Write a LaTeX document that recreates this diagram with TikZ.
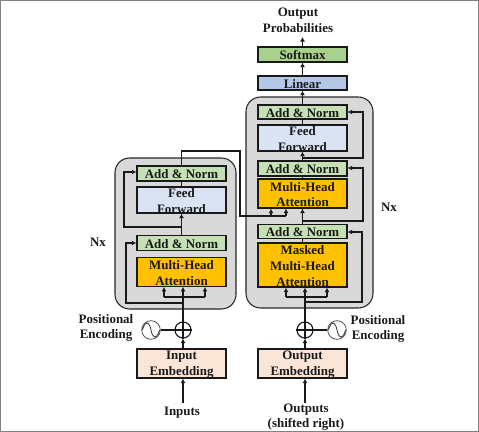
\documentclass[tikz,border=0pt]{standalone}
\usepackage{fontspec}
\setmainfont{Liberation Serif}
\usetikzlibrary{arrows.meta}
\definecolor{panelg}{HTML}{D9D9D9}
\definecolor{normg}{HTML}{C5E0B4}
\definecolor{softg}{HTML}{A9D18E}
\definecolor{ffb}{HTML}{DAE3F3}
\definecolor{linb}{HTML}{B4C7E7}
\definecolor{atto}{HTML}{FFC000}
\definecolor{embo}{HTML}{FBE5D6}
\tikzset{
  x=0.75pt,y=-0.75pt,
  txt/.style={font=\bfseries\fontsize{9.7}{11.7}\selectfont,align=center,text=black!90,inner sep=0pt},
  panel/.style={draw=black!85,line width=0.8pt,fill=panelg,rounded corners=11pt},
  blockbox/.style={draw=black!90,line width=1pt,inner sep=0pt,minimum width=66.75pt},
  wire/.style={draw=black!90,line width=1pt},
  arr/.style={wire,-{Latex[length=3.4pt,width=3.8pt]}},
  sumnode/.style={draw=black!90,line width=0.85pt,circle,minimum size=12pt,inner sep=0pt},
  sinenode/.style={draw=black!70,line width=0.6pt,circle,minimum size=14pt,inner sep=0pt,fill=white},
}
\newcommand{\blk}[6]{\node[blockbox,fill=#2,minimum height=#4*0.75pt] (#1) at (#3,#5) {};
  \node[txt] (#1-t) at ([yshift=-0.75pt]#1.center) {#6};}
\begin{document}
\begin{tikzpicture}
\useasboundingbox (0,0) rectangle (479,432);
\coordinate (tl) at (0.5,0.5); \coordinate (br) at (478.5,431.5);
\draw[draw=black!50,line width=0.8pt] (tl) rectangle (br);
% panels
\node[panel,minimum width=90.75pt,minimum height=113.25pt,inner sep=0pt] (pl) at (175.5,233.5) {};
\node[panel,minimum width=95.25pt,minimum height=158.25pt,inner sep=0pt] (pr) at (309.5,202.5) {};
% left blocks
\blk{an1}{normg}{181.5}{15}{173.5}{Add \& Norm}
\blk{ff1}{ffb}{181.5}{26}{200}{Feed\\Forward}
\blk{an2}{normg}{181.5}{14.5}{243}{Add \& Norm}
\blk{mh1}{atto}{181.5}{28.5}{272}{Multi-Head\\Attention}
% right blocks
\blk{soft}{softg}{302.5}{15}{54.5}{Softmax}
\blk{lin}{linb}{302.5}{14}{83}{Linear}
\blk{an3}{normg}{302.5}{14}{112}{Add \& Norm}
\blk{ff2}{ffb}{302.5}{26}{138}{Feed\\Forward}
\blk{an4}{normg}{302.5}{15}{168.5}{Add \& Norm}
\blk{mh2}{atto}{302.5}{29}{193.5}{Multi-Head\\Attention}
\blk{an5}{normg}{302.5}{14.5}{231.5}{Add \& Norm}
\blk{mh3}{atto}{302.5}{44}{265}{Masked\\Multi-Head\\Attention}
% embeddings
\blk{ie}{embo}{181.5}{29}{363.5}{Input\\Embedding}
\blk{oe}{embo}{302.5}{29}{363.5}{Output\\Embedding}
% sum and sine circles
\node[sumnode] (pl1) at (183,330) {};
\node[sumnode] (pl2) at (305,330) {};
\draw[wire] (pl1.west)--(pl1.east) (pl2.west)--(pl2.east);
\node[sinenode] (s1) at (151,330) {};
\node[sinenode] (s2) at (337,330) {};
\foreach \c in {s1,s2}{
  \draw[black!80,line width=0.6pt] ([xshift=-6.5pt]\c.center) .. controls ([xshift=-3.5pt,yshift=9pt]\c.center) and ([xshift=-1pt,yshift=5pt]\c.center) .. (\c.center) .. controls ([xshift=1pt,yshift=-5pt]\c.center) and ([xshift=3.5pt,yshift=-9pt]\c.center) .. ([xshift=6.5pt]\c.center);
}
\draw[wire] (s1)--(pl1); \draw[wire] (s2)--(pl2);
% named routing points
\coordinate (lj1) at (183,297); \coordinate (lj2) at (183,303);
\coordinate (lf1) at (164,297); \coordinate (lf2) at (205,297);
\coordinate (lr1) at (126,303); \coordinate (lr2) at (126,243);
\coordinate (lj3) at (182,227); \coordinate (lr3) at (124,227); \coordinate (lr4) at (124,172);
\coordinate (x1) at (181.5,151); \coordinate (x2) at (240,151); \coordinate (x3) at (240,216);
\coordinate (x4) at (271,216); \coordinate (x5) at (286,216);
\coordinate (rj1) at (305,297); \coordinate (rj2) at (305,302);
\coordinate (rf1) at (286,297); \coordinate (rf2) at (327,297);
\coordinate (rr1) at (362,302); \coordinate (rr2) at (362,232);
\coordinate (rj3) at (302.5,221); \coordinate (rr3) at (363,221); \coordinate (rr4) at (363,168);
\coordinate (rj4) at (302.5,158); \coordinate (rr5) at (363,158); \coordinate (rr6) at (363,112);
\coordinate (topo) at (302.5,37);
\coordinate (inp) at (183,403); \coordinate (oup) at (305,403);
% left wires
\draw[arr] (pl1.north)--(pl1 |- mh1.south);
\draw[wire] (pl1.north)--(pl1.south);
\draw[arr] (lj2)--(lr1)--(lr2)--(lr2 -| an2.west);
\draw[wire] (lf1)--(lf2);
\draw[arr] (lf1)--(lf1 |- mh1.south);
\draw[arr] (lf2)--(lf2 |- mh1.south);
\draw[arr] (an2.north)--(ff1.south);
\draw[arr] (lj3)--(lr3)--(lr4)--(lr4 -| an1.west);
\draw[wire] (an1.south)--(ff1.north);
\draw[wire] (an1.north)--(x1)--(x2)--(x3)--(x5);
\draw[arr] (x4)--(x4 |- mh2.south);
\draw[arr] (x5)--(x5 |- mh2.south);
% right wires
\draw[wire] (pl2.north)--(pl2.south);
\draw[arr] (pl2.north)--(pl2 |- mh3.south);
\draw[wire] (rf1)--(rf2);
\draw[arr] (rf1)--(rf1 |- mh3.south);
\draw[arr] (rf2)--(rf2 |- mh3.south);
\draw[arr] (rj2)--(rr1)--(rr2)--(rr2 -| an5.east);
\draw[wire] (an5.south)--(mh3.north);
\draw[arr] (an5.north)--(mh2.south);
\draw[arr] (rj3)--(rr3)--(rr4)--(rr4 -| an4.east);
\draw[wire] (mh2.north)--(an4.south);
\draw[arr] (an4.north)--(ff2.south);
\draw[arr] (rj4)--(rr5)--(rr6)--(rr6 -| an3.east);
\draw[wire] (an3.south)--(ff2.north);
\draw[arr] (an3.north)--(lin.south);
\draw[arr] (lin.north)--(soft.south);
\draw[arr] (soft.north)--(topo);
% input arrows
\draw[arr] (ie.north -| pl1)--(pl1.south);
\draw[arr] (oe.north -| pl2)--(pl2.south);
\draw[arr] (inp)--(inp |- ie.south);
\draw[arr] (oup)--(oup |- oe.south);
% labels
\node[txt] (t1) at (298,20) {Output\\Probabilities};
\node[txt] (t2) at (98,242) {Nx};
\node[txt] (t3) at (389,207) {Nx};
\node[txt] (t4) at (106,328) {Positional\\Encoding};
\node[txt] (t5) at (378,329) {Positional\\Encoding};
\node[txt] (t6) at (182,413) {Inputs};
\node[txt] (t7) at (306,417) {Outputs\\(shifted right)};
\end{tikzpicture}
\end{document}
